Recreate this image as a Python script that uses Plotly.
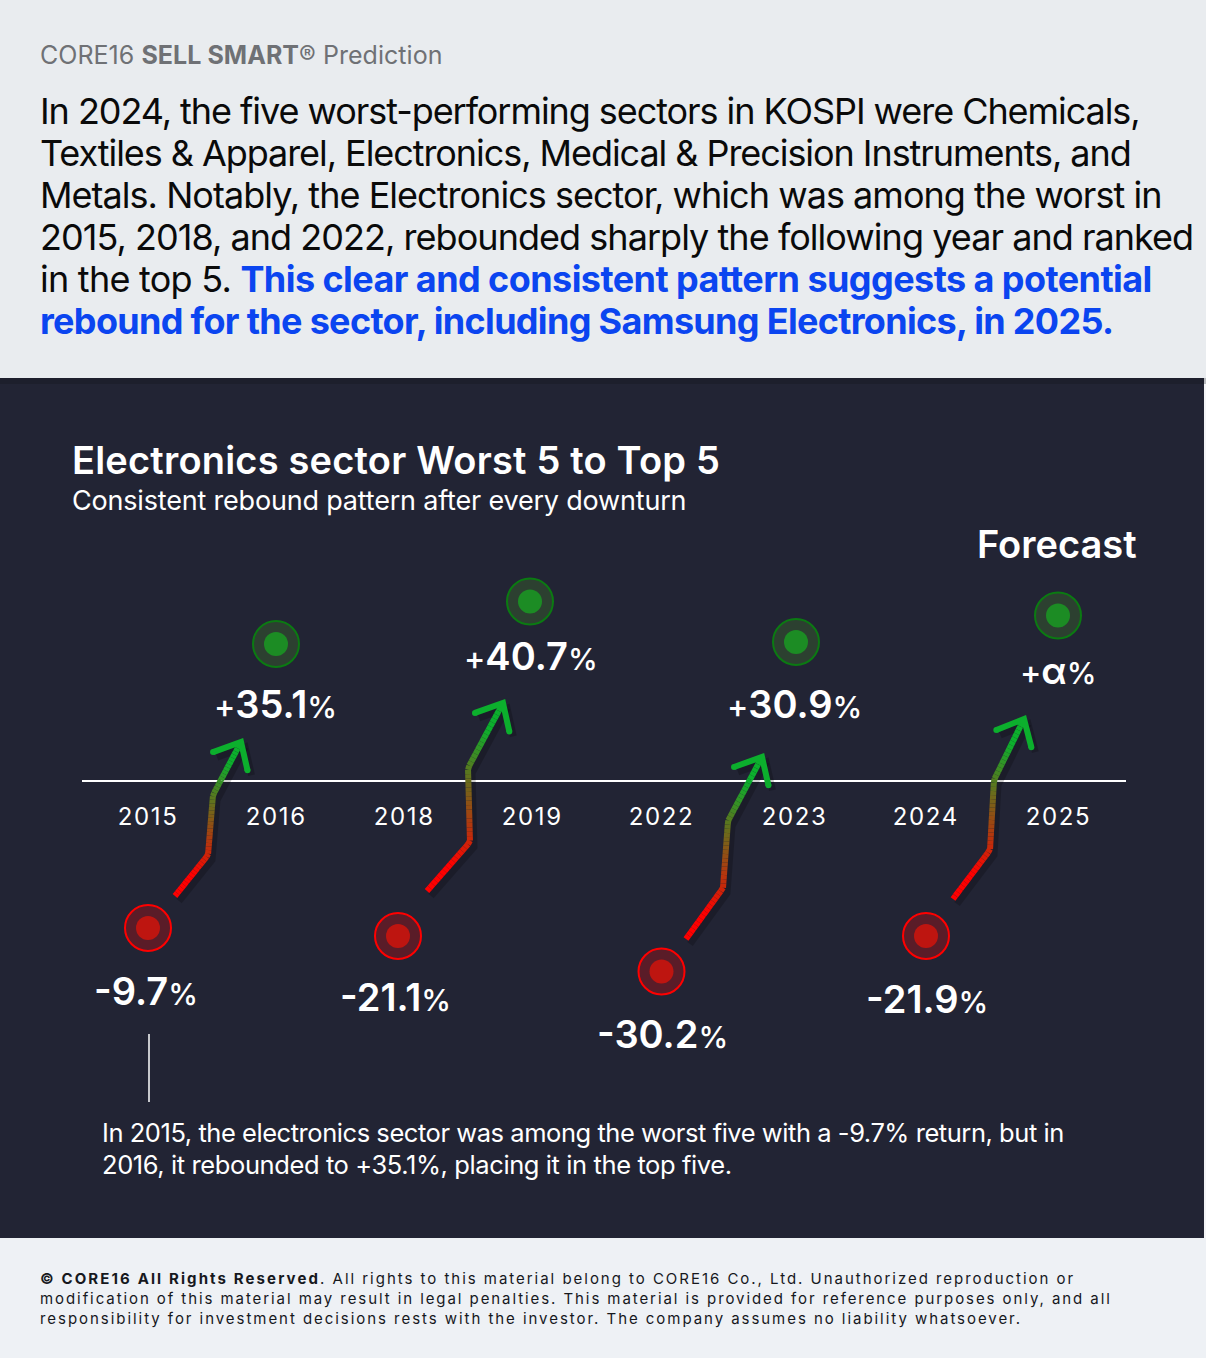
import json
import numpy as np
import plotly.graph_objects as go

W, H = 1206, 1358
BASE = 780  # pixel row of the zero line; axis units equal one pixel

# ---- data ----
years = ["2015", "2016", "2018", "2019", "2022", "2023", "2024", "2025"]
returns = ["-9.7", "+35.1", "-21.1", "+40.7", "-30.2", "+30.9", "-21.9", "+α"]
levels = [-148, 136, -156, 178.5, -191.5, 138, -156, 164.5]  # schematic height of each dot
year_pos = [148, 276, 398, 530, 661.5, 796, 926, 1058]
label_pos = [148, 276, 404, 532, 661.5, 794, 926, 1058]
value_pos = [146, 275, 395.5, 531, 662, 794, 926.5, 1058]
value_rows = [990.5, 704, 997, 656, 1034, 704, 999, 670.5]

header_lines = [
    "In 2024, the five worst-performing sectors in KOSPI were Chemicals,",
    "Textiles &amp; Apparel, Electronics, Medical &amp; Precision Instruments, and",
    "Metals. Notably, the Electronics sector, which was among the worst in",
    "2015, 2018, and 2022, rebounded sharply the following year and ranked",
    "in the top 5. <span style='color:#0B45F0'><b>This clear and consistent pattern suggests a potential</b></span>",
    "<span style='color:#0B45F0'><b>rebound for the sector, including Samsung Electronics, in 2025.</b></span>",
]
note_lines = [
    "In 2015, the electronics sector was among the worst five with a -9.7% return, but in",
    "2016, it rebounded to +35.1%, placing it in the top five.",
]
footer_lines = [
    "<b>© CORE16 All Rights Reserved</b>. All rights to this material belong to CORE16 Co., Ltd. Unauthorized reproduction or",
    "modification of this material may result in legal penalties. This material is provided for reference purposes only, and all",
    "responsibility for investment decisions rests with the investor. The company assumes no liability whatsoever.",
]
arrows = [
    [(175, 896), (208, 855), (213, 795), (241, 742)],
    [(427, 891), (470, 842), (468, 768), (503, 703)],
    [(686, 939), (723, 888), (728, 821), (762, 757)],
    [(953, 899), (990, 850), (994, 780), (1024, 719)],
]

# ---- styles ----
FONT = "Inter"
TOP_BG, DARK_BG, FOOT_BG = "#E9ECEF", "#222434", "#EEF1F5"
RED = np.array([255, 0, 0])
GREEN = np.array([12, 175, 45])
header_ls = [(-1.06, 0), (-1.06, 0), (-0.97, 0), (-0.96, 0), (-0.75, -0.57), (0, -0.68)]
note_ls = [-0.45, -0.40]
footer_ls = [(1.97, 2.11), (1.92, 1.92), (1.95, 1.95)]


def band(x0, x1, py0, py1, color):
    return dict(type="rect", xref="x", yref="y", x0=x0, x1=x1, y0=BASE - py0, y1=BASE - py1,
                fillcolor=color, line_width=0, layer="below")


fig = go.Figure()
shapes = [
    band(0, W, 0, 378, TOP_BG),
    band(0, W, 378, 1238, DARK_BG),
    band(0, W, 378, 384, "#1D1F2C"),
    band(1204, W, 378, 384, "#B9BBBF"),
    band(1204, W, 384, 1238, "#F4F5F7"),
    band(0, W, 1238, H, FOOT_BG),
    dict(type="line", xref="x", yref="y", x0=149, x1=149, y0=BASE - 1034, y1=BASE - 1102, line=dict(color="white", width=1.5)),
]
fig.add_trace(go.Scatter(x=[82, 1126], y=[-1, -1], mode="lines", line=dict(color="white", width=2), hoverinfo="skip", showlegend=False))

# gradient arrows: short coloured pieces along each polyline
for path in arrows:
    pts = np.array(path, float)
    seg = np.hypot(*np.diff(pts, axis=0).T)
    cum = np.concatenate([[0], np.cumsum(seg)])
    tt = np.linspace(0, cum[-1], 49)
    xs, ys = np.interp(tt, cum, pts[:, 0]), np.interp(tt, cum, pts[:, 1])
    tip = pts[-1]
    d = (pts[-1] - pts[-2]) / seg[-1]
    n = np.array([-d[1], d[0]])
    wing1 = tip - 22 * d + 19 * n
    wing2 = tip - 22 * d - 20 * n
    # soft shadow
    fig.add_trace(go.Scatter(x=list(pts[:, 0] + 4), y=list(BASE - pts[:, 1] - 5), mode="lines",
                             line=dict(color="rgba(0,0,0,0.20)", width=7), hoverinfo="skip", showlegend=False))
    fig.add_trace(go.Scatter(x=[wing1[0] + 4, tip[0] + 4, wing2[0] + 4], y=[BASE - wing1[1] - 5, BASE - tip[1] - 5, BASE - wing2[1] - 5],
                             mode="lines", line=dict(color="rgba(0,0,0,0.20)", width=7), hoverinfo="skip", showlegend=False))
    for i in range(len(tt) - 1):
        c = RED + (GREEN - RED) * min(1, max(0, (tt[i] / cum[-1] - 0.15) / 0.7))
        fig.add_trace(go.Scatter(x=[xs[i], xs[i + 1]], y=[BASE - ys[i], BASE - ys[i + 1]], mode="lines",
                                 line=dict(color=f"rgb({c[0]:.0f},{c[1]:.0f},{c[2]:.0f})", width=6),
                                 hoverinfo="skip", showlegend=False))
    fig.add_trace(go.Scatter(x=[wing1[0], tip[0], wing2[0]], y=[BASE - wing1[1], BASE - tip[1], BASE - wing2[1]],
                             mode="lines", line=dict(color="rgb(12,175,45)", width=6), hoverinfo="skip", showlegend=False))
    for w in (wing1, wing2):
        fig.add_trace(go.Scatter(x=[w[0]], y=[BASE - w[1]], mode="markers", marker=dict(size=6, color="rgb(12,175,45)"),
                                 hoverinfo="skip", showlegend=False))

# dots
lv = np.array(levels)
neg = lv < 0
xp = np.array(year_pos)
fig.add_trace(go.Scatter(x=xp[neg], y=lv[neg], mode="markers", hoverinfo="skip", showlegend=False,
                         marker=dict(size=46, color="#5A1C28", line=dict(color="#FF0000", width=2))))
fig.add_trace(go.Scatter(x=xp[neg], y=lv[neg], mode="markers", hoverinfo="skip", showlegend=False,
                         marker=dict(size=24, color="#BE1510")))
fig.add_trace(go.Scatter(x=xp[~neg], y=lv[~neg], mode="markers", hoverinfo="skip", showlegend=False,
                         marker=dict(size=46, color="#2C4030", line=dict(color="#0B7A12", width=2))))
fig.add_trace(go.Scatter(x=xp[~neg], y=lv[~neg], mode="markers", hoverinfo="skip", showlegend=False,
                         marker=dict(size=24, color="#1C8C24")))

ann = []
spacing = []


def text(px, py, s, size, color, anchor="left", weight=None, ls=0, bold_ls=None):
    ann.append(dict(x=px, y=BASE - py, xref="x", yref="y", text=s, showarrow=False, xanchor=anchor, yanchor="middle",
                    align=anchor, font=dict(family=FONT, size=size, color=color, weight=weight), borderpad=0, borderwidth=0))
    spacing.append([ls, ls if bold_ls is None else bold_ls])


text(40, 55, "CORE16 <b>SELL SMART</b>® Prediction", 25, "#6F7175", ls=0.03, bold_ls=0.05)
for i, line in enumerate(header_lines):
    text(40, 111.4 + 42 * i, line, 36, "#0A0A0A", ls=header_ls[i][0], bold_ls=header_ls[i][1])
text(72, 460, "Electronics sector Worst 5 to Top 5", 38, "white", weight=600, ls=0.2)
text(72, 500, "Consistent rebound pattern after every downturn", 27, "white", ls=-0.19)
text(977, 544, "Forecast", 38, "white", weight=600)
for x, y in zip(label_pos, years):
    text(x, 816, y, 24, "white", "center", ls=1.6)
for x, r, v in zip(value_pos, value_rows, returns):
    big = 38 if v != "+α" else 37
    pct = "<span style='font-size:30px;font-weight:500'>%</span>"
    if v[0] == "+":
        s = f"<span style='font-size:32px;font-weight:500'>+</span>{v[1:]}{pct}"
    else:
        s = f"{v}{pct}"
    text(x, r, s, big, "white", "center", weight=600)
for i, line in enumerate(note_lines):
    text(102, 1132.4 + 32 * i, line, 25.5, "white", ls=note_ls[i])
for i, line in enumerate(footer_lines):
    text(40, 1278 + 20 * i, line, 15, "#16181D", ls=footer_ls[i][0], bold_ls=footer_ls[i][1])

fig.update_layout(
    width=W, height=H, margin=dict(l=0, r=0, t=0, b=0), showlegend=False,
    paper_bgcolor=DARK_BG, plot_bgcolor=DARK_BG,
    xaxis=dict(range=[0, W], visible=False, fixedrange=True),
    yaxis=dict(range=[BASE - H, BASE], visible=False, fixedrange=True),
    shapes=shapes, annotations=ann, hovermode=False,
)

post = """
document.body.style.margin='0';
var sp=%s;
document.querySelectorAll('.annotation').forEach(function(g){
  var i=+g.getAttribute('data-index');
  var t=g.querySelector('text');
  if(!t||!sp[i])return;
  if(sp[i][0]){t.style.letterSpacing=sp[i][0]+'px';}
  t.querySelectorAll('tspan').forEach(function(s){
    if(s.style.fontWeight==='bold'||s.style.fontWeight==='700'){s.style.letterSpacing=sp[i][1]+'px';}
  });
});
""" % json.dumps(spacing)
fig.write_html("out.html", post_script=post, config=dict(displayModeBar=False))
